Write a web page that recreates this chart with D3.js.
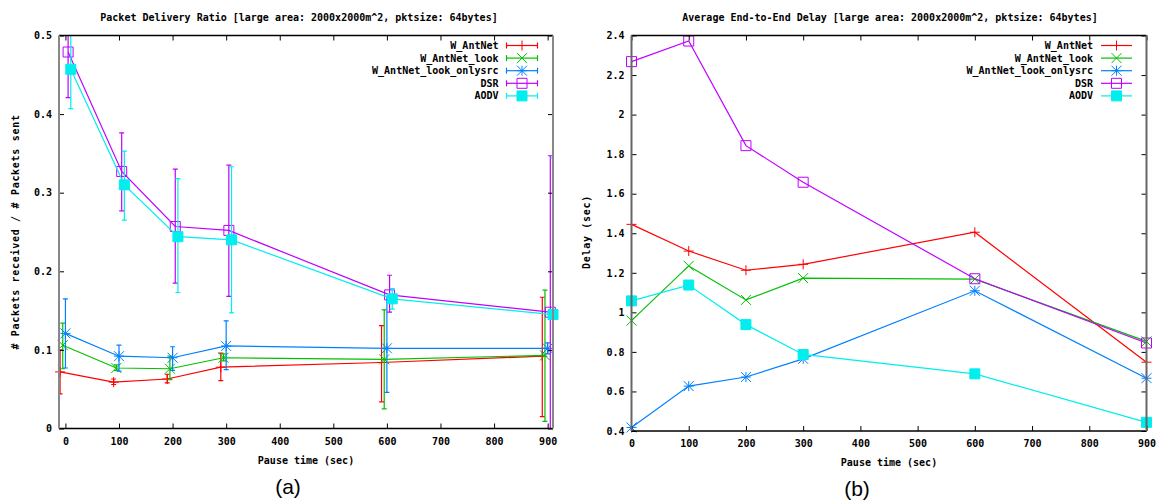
<!DOCTYPE html>
<html>
<head>
<meta charset="utf-8">
<script src="https://cdn.jsdelivr.net/npm/d3@7"></script>
<style>
  body { margin: 0; background: #fff; }
  svg text { font-family: "DejaVu Sans Mono", monospace; font-weight: bold; font-size: 10px; fill: #000; }
  svg text.ylabel { letter-spacing: 0.7px; }
  svg text.caption { font-family: "Liberation Sans", Arial, sans-serif; font-weight: normal; font-size: 21px; letter-spacing: 0; }
</style>
</head>
<body>
<svg id="chart" width="1157" height="501"></svg>
<script>
const pauseTimes = [0, 100, 200, 300, 600, 900];
const protocols = ["W_AntNet", "W_AntNet_look", "W_AntNet_look_onlysrc", "DSR", "AODV"];
// each protocol is shifted a bit on the x axis in (a) so error bars don't overlap
const pauseShift = [-10, -5, 0, 5, 10];

// (a) packet delivery ratio: mean, low, high
const pdrAntNet = [0.072, 0.059, 0.063, 0.078, 0.084, 0.092];
const pdrAntNetLo = [0.044, 0.056, 0.058, 0.061, 0.034, 0.015];
const pdrAntNetHi = [0.100, 0.063, 0.069, 0.096, 0.131, 0.167];
const pdrLook = [0.106, 0.077, 0.076, 0.090, 0.088, 0.093];
const pdrLookLo = [0.076, 0.074, 0.062, 0.086, 0.025, 0.009];
const pdrLookHi = [0.134, 0.081, 0.092, 0.095, 0.151, 0.176];
const pdrOnlysrc = [0.121, 0.092, 0.090, 0.105, 0.102, 0.102];
const pdrOnlysrcLo = [0.077, 0.073, 0.074, 0.075, 0.046, 0.095];
const pdrOnlysrcHi = [0.165, 0.106, 0.104, 0.137, 0.168, 0.109];
const pdrDSR = [0.479, 0.327, 0.257, 0.252, 0.170, 0.148];
const pdrDSRLo = [0.421, 0.277, 0.185, 0.168, 0.148, -0.05];
const pdrDSRHi = [0.54, 0.376, 0.330, 0.335, 0.195, 0.347];
const pdrAODV = [0.457, 0.310, 0.244, 0.240, 0.165, 0.145];
const pdrAODVLo = [0.407, 0.265, 0.173, 0.147, 0.152, -0.05];
const pdrAODVHi = [0.52, 0.353, 0.318, 0.333, 0.178, 0.344];

// (b) average end-to-end delay
const delayAntNet = [1.445, 1.31, 1.213, 1.243, 1.405, 0.748];
const delayLook = [0.958, 1.235, 1.063, 1.173, 1.168, 0.853];
const delayOnlysrc = [0.418, 0.627, 0.673, 0.765, 1.109, 0.667];
const delayDSR = [2.268, 2.372, 1.843, 1.658, 1.170, 0.845];
const delayAODV = [1.058, 1.138, 0.938, 0.787, 0.689, 0.444];

const pauseTicks = [0, 100, 200, 300, 400, 500, 600, 700, 800, 900];
const pdrTicks = [0, 0.1, 0.2, 0.3, 0.4, 0.5];
const delayTicks = [0.4, 0.6, 0.8, 1, 1.2, 1.4, 1.6, 1.8, 2, 2.2, 2.4];

const colors = ["#ff0000", "#00c000", "#0080ff", "#c000ff", "#00eeee"];
const markers = ["plus", "cross", "star", "box", "fbox"];

const pdrSeries = [
  [pdrAntNet, pdrAntNetLo, pdrAntNetHi],
  [pdrLook, pdrLookLo, pdrLookHi],
  [pdrOnlysrc, pdrOnlysrcLo, pdrOnlysrcHi],
  [pdrDSR, pdrDSRLo, pdrDSRHi],
  [pdrAODV, pdrAODVLo, pdrAODVHi]
];
const delaySeries = [delayAntNet, delayLook, delayOnlysrc, delayDSR, delayAODV];

const svg = d3.select("#chart");
const fmt = d3.format("~g");

function markerPath(type, s) {
  const plus = `M${-s},0H${s}M0,${-s}V${s}`;
  const cross = `M${-s},${-s}L${s},${s}M${-s},${s}L${s},${-s}`;
  if (type === "plus") return plus;
  if (type === "cross") return cross;
  if (type === "star") return plus + cross;
  return `M${-s},${-s}H${s}V${s}H${-s}Z`;
}

function drawMarker(g, type, color, cx, cy) {
  g.append("path")
    .attr("transform", `translate(${cx},${cy})`)
    .attr("d", markerPath(type, 5))
    .attr("fill", type === "fbox" ? color : "none")
    .attr("stroke", color)
    .attr("stroke-width", 1);
}

function drawFrame(g, x, y, yTicks, sideColor) {
  const [x0, x1] = x.range();
  const [yb, yt] = y.range();

  g.append("g").attr("transform", `translate(0,${yb})`)
    .call(d3.axisBottom(x).tickValues(pauseTicks).tickSize(-5).tickPadding(9).tickFormat(fmt))
    .call(a => a.select(".domain").remove());
  g.append("g").attr("transform", `translate(0,${yt})`)
    .call(d3.axisTop(x).tickValues(pauseTicks).tickSize(-5).tickFormat(""))
    .call(a => a.select(".domain").remove());
  g.append("g").attr("transform", `translate(${x0},0)`)
    .call(d3.axisLeft(y).tickValues(yTicks).tickSize(-5).tickPadding(7).tickFormat(fmt))
    .call(a => a.select(".domain").remove());
  g.append("g").attr("transform", `translate(${x1},0)`)
    .call(d3.axisRight(y).tickValues(yTicks).tickSize(-5).tickFormat(""))
    .call(a => a.select(".domain").remove());

  g.append("line").attr("x1", x0).attr("x2", x1).attr("y1", yt).attr("y2", yt)
    .attr("stroke", "#000").attr("stroke-width", 1.3);
  g.append("line").attr("x1", x0).attr("x2", x1).attr("y1", yb).attr("y2", yb)
    .attr("stroke", "#000").attr("stroke-width", 1.3);
  g.append("line").attr("x1", x0).attr("x2", x0).attr("y1", yt).attr("y2", yb)
    .attr("stroke", sideColor).attr("stroke-width", 2);
  g.append("line").attr("x1", x1).attr("x2", x1).attr("y1", yt).attr("y2", yb)
    .attr("stroke", sideColor).attr("stroke-width", 2);
}

function drawLabels(g, x, y, opts) {
  const [x0, x1] = x.range();
  const [yb] = y.range();
  const cx = (x0 + x1) / 2;
  g.append("text").attr("x", opts.titleX).attr("y", 21).attr("text-anchor", "middle").text(opts.title);
  g.append("text").attr("x", cx).attr("y", yb + 35).attr("text-anchor", "middle").text("Pause time (sec)");
  g.append("text").attr("class", "ylabel").attr("transform", `translate(${opts.yLabelX},232) rotate(-90)`)
    .attr("text-anchor", "middle").text(opts.yLabel);
  g.append("text").attr("class", "caption").attr("x", opts.captionX).attr("y", opts.captionY)
    .attr("text-anchor", "middle").text(opts.caption);
}

function drawLegend(g, textRight, withBars) {
  protocols.forEach((name, i) => {
    const ly = 45.5 + i * 12.6;
    const lx0 = textRight + 8, lx1 = textRight + 39, mx = (lx0 + lx1) / 2;
    g.append("text").attr("x", textRight).attr("y", ly + 3.5).attr("text-anchor", "end").text(name);
    g.append("line").attr("x1", lx0).attr("x2", lx1).attr("y1", ly).attr("y2", ly)
      .attr("stroke", colors[i]).attr("stroke-width", 1.2);
    if (withBars) {
      [lx0, lx1].forEach(ex => g.append("line").attr("x1", ex).attr("x2", ex)
        .attr("y1", ly - 3).attr("y2", ly + 3).attr("stroke", colors[i]).attr("stroke-width", 1.2));
    }
    drawMarker(g, markers[i], colors[i], mx, ly);
  });
}

// ---------- (a) packet delivery ratio ----------
const gA = svg.append("g");
const xA = d3.scaleLinear().domain([-12, 910]).range([59, 553]);
const yA = d3.scaleLinear().domain([0, 0.5]).range([428.5, 35.5]);

svg.append("clipPath").attr("id", "clipA").append("rect")
  .attr("x", 59).attr("y", 35.5).attr("width", 494).attr("height", 393);

const plotA = gA.append("g");
pdrSeries.forEach((s, i) => {
  const [mean, lo, hi] = s;
  const pts = pauseTimes.map((t, j) => ({ x: t + pauseShift[i], y: mean[j], lo: lo[j], hi: hi[j] }));
  const clipped = plotA.append("g").attr("clip-path", "url(#clipA)");
  clipped.append("path")
    .attr("d", d3.line().x(d => xA(d.x)).y(d => yA(d.y))(pts))
    .attr("fill", "none").attr("stroke", colors[i]).attr("stroke-width", 1.2);
  pts.forEach(d => {
    const px = xA(d.x);
    clipped.append("line").attr("x1", px).attr("x2", px).attr("y1", yA(d.lo)).attr("y2", yA(d.hi))
      .attr("stroke", colors[i]).attr("stroke-width", 1.2);
    [d.lo, d.hi].forEach(v => clipped.append("line")
      .attr("x1", px - 2.5).attr("x2", px + 2.5).attr("y1", yA(v)).attr("y2", yA(v))
      .attr("stroke", colors[i]).attr("stroke-width", 1.2));
  });
  pts.forEach(d => drawMarker(plotA, markers[i], colors[i], xA(d.x), yA(d.y)));
});

drawFrame(gA, xA, yA, pdrTicks, "#888");
drawLegend(gA, 498.5, true);
drawLabels(gA, xA, yA, {
  title: "Packet Delivery Ratio [large area: 2000x2000m^2, pktsize: 64bytes]", titleX: 299,
  yLabel: "# Packets received / # Packets sent", yLabelX: 19,
  caption: "(a)", captionX: 288, captionY: 494
});

// ---------- (b) end-to-end delay ----------
const gB = svg.append("g");
const xB = d3.scaleLinear().domain([0, 900]).range([631.5, 1146.5]);
const yB = d3.scaleLinear().domain([0.4, 2.4]).range([431, 35.5]);

delaySeries.forEach((vals, i) => {
  const pts = pauseTimes.map((t, j) => ({ x: t, y: vals[j] }));
  gB.append("path")
    .attr("d", d3.line().x(d => xB(d.x)).y(d => yB(d.y))(pts))
    .attr("fill", "none").attr("stroke", colors[i]).attr("stroke-width", 1.2);
  pts.forEach(d => drawMarker(gB, markers[i], colors[i], xB(d.x), yB(d.y)));
});

drawFrame(gB, xB, yB, delayTicks, "#666");
drawLegend(gB, 1093, false);
drawLabels(gB, xB, yB, {
  title: "Average End-to-End Delay [large area: 2000x2000m^2, pktsize: 64bytes]", titleX: 890,
  yLabel: "Delay (sec)", yLabelX: 590,
  caption: "(b)", captionX: 857, captionY: 496
});
</script>
</body>
</html>
